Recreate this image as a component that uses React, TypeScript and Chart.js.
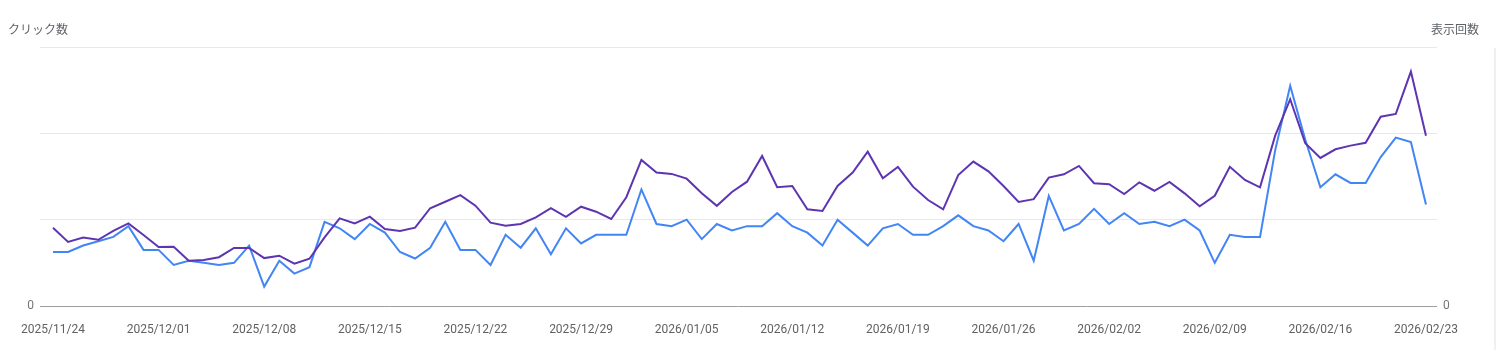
import React, { useEffect, useRef } from "react";
import { Chart, registerables } from "chart.js";

Chart.register(...registerables);

const tickLabels = [
  "2025/11/24", "2025/12/01", "2025/12/08", "2025/12/15", "2025/12/22", "2025/12/29",
  "2026/01/05", "2026/01/12", "2026/01/19", "2026/01/26", "2026/02/02", "2026/02/09",
  "2026/02/16", "2026/02/23",
];

// daily clicks (left axis), 2025/11/24 .. 2026/02/23
const clicks = [
  25, 25, 28, 30, 32, 37, 26, 26, 19, 21, 20, 19, 20, 28, 9, 21,
  15, 18, 39, 36, 31, 38, 34, 25, 22, 27, 39, 26, 26, 19, 33, 27,
  36, 24, 36, 29, 33, 33, 33, 54, 38, 37, 40, 31, 38, 35, 37, 37,
  43, 37, 34, 28, 40, 34, 28, 36, 38, 33, 33, 37, 42, 37, 35, 30,
  38, 21, 51, 35, 38, 45, 38, 43, 38, 39, 37, 40, 35, 20, 33, 32,
  32, 72, 102, 77, 55, 61, 57, 57, 69, 78, 76, 47,
];

// daily impressions (right axis)
const impressions = [
  363, 297, 317, 307, 348, 383, 329, 273, 275, 210, 213, 226, 269, 269, 222, 233,
  196, 219, 318, 406, 383, 414, 357, 348, 363, 453, 483, 514, 465, 386, 372, 380,
  411, 453, 413, 460, 437, 403, 504, 677, 618, 612, 590, 522, 464, 528, 576, 695,
  550, 556, 448, 440, 556, 618, 715, 592, 644, 553, 491, 448, 607, 669, 624, 556,
  482, 495, 595, 610, 649, 569, 564, 519, 573, 534, 575, 522, 462, 511, 645, 584,
  550, 788, 958, 754, 686, 726, 743, 756, 877, 890, 1086, 789,
];

const leftTicks = [0, 40, 80, 120];
const rightTicks = [0, 400, 800, 1200];

export default function App() {
  const canvasRef = useRef<HTMLCanvasElement | null>(null);

  useEffect(() => {
    document.body.style.margin = "0";
    const ctx = canvasRef.current;
    if (!ctx) return;
    const chart = new Chart(ctx, {
      type: "line",
      data: {
        datasets: [
          {
            label: "表示回数",
            data: impressions.map((v, i) => ({ x: i, y: v })),
            yAxisID: "y1",
            borderColor: "#5e35b1",
            backgroundColor: "#5e35b1",
            borderWidth: 2,
            pointRadius: 0,
            tension: 0,
          },
          {
            label: "クリック数",
            data: clicks.map((v, i) => ({ x: i, y: v })),
            yAxisID: "y",
            borderColor: "#4285f4",
            backgroundColor: "#4285f4",
            borderWidth: 2,
            pointRadius: 0,
            tension: 0,
          },
        ],
      },
      options: {
        responsive: false,
        animation: false,
        events: [],
        layout: { padding: { top: 47, left: 0, right: 0, bottom: 0 } },
        plugins: { legend: { display: false }, tooltip: { enabled: false } },
        scales: {
          x: {
            type: "linear",
            min: -0.86,
            max: 91.73,
            grid: { display: false, drawTicks: false },
            border: { display: false },
            afterBuildTicks: (scale: any) => {
              scale.ticks = tickLabels.map((_, i) => ({ value: i * 7 }));
            },
            afterFit: (scale: any) => {
              scale.height = 50;
            },
            ticks: {
              autoSkip: false,
              maxRotation: 0,
              padding: 17,
              color: "#616161",
              font: { family: "Roboto", size: 12 },
              callback: (value: any) => {
                const idx = Math.round(Number(value) / 7);
                return tickLabels[idx] ?? "";
              },
            },
          },
          y: {
            position: "left",
            min: 0,
            max: 120,
            afterBuildTicks: (scale: any) => {
              scale.ticks = leftTicks.map((v) => ({ value: v }));
            },
            afterFit: (scale: any) => {
              scale.width = 40;
            },
            border: { display: false },
            grid: {
              drawTicks: false,
              color: (c: any) => (c.tick && c.tick.value === 0 ? "#9e9e9e" : "#e8e8e8"),
              lineWidth: 1,
            },
            ticks: {
              padding: 6,
              color: "#757575",
              font: { family: "Roboto", size: 12 },
              callback: (v: any) => (Number(v) === 0 ? "0" : ""),
            },
          },
          y1: {
            position: "right",
            min: 0,
            max: 1200,
            afterBuildTicks: (scale: any) => {
              scale.ticks = rightTicks.map((v) => ({ value: v }));
            },
            afterFit: (scale: any) => {
              scale.width = 60;
            },
            border: { display: false },
            grid: { display: false, drawTicks: false },
            ticks: {
              padding: 6,
              color: "#757575",
              font: { family: "Roboto", size: 12 },
              callback: (v: any) => (Number(v) === 0 ? "0" : ""),
            },
          },
        },
      },
    } as any);
    return () => chart.destroy();
  }, []);

  const titleStyle: React.CSSProperties = {
    position: "absolute",
    top: 20,
    fontFamily: "'Noto Sans CJK JP', sans-serif",
    fontSize: 12,
    lineHeight: "17px",
    color: "#5f6368",
    whiteSpace: "nowrap",
  };

  return (
    <div style={{ position: "relative", width: 1497, height: 356, background: "#fff", overflow: "hidden" }}>
      <canvas ref={canvasRef} width={1497} height={356} style={{ display: "block" }} />
      <div style={{ ...titleStyle, left: 8 }}>クリック数</div>
      <div style={{ ...titleStyle, left: 1431 }}>表示回数</div>
      <div
        style={{
          position: "absolute",
          left: 1494,
          top: 48,
          width: 2,
          height: 302,
          background: "#eef0f3",
        }}
      />
    </div>
  );
}
